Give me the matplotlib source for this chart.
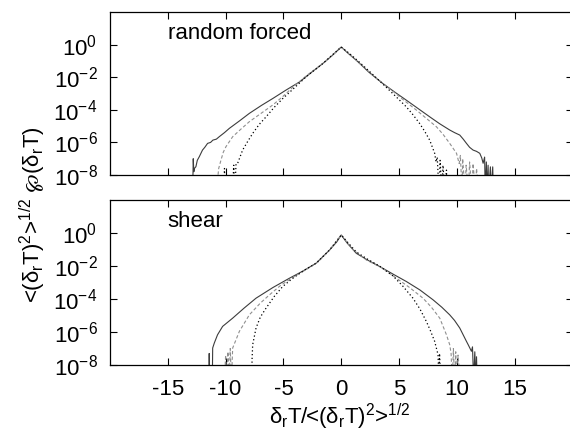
import numpy as np
import matplotlib
matplotlib.use("Agg")
import matplotlib.pyplot as plt
from matplotlib.ticker import FixedLocator, FuncFormatter

plt.rcParams['font.family'] = ['Liberation Sans', 'DejaVu Sans']
plt.rcParams['mathtext.fontset'] = 'custom'
plt.rcParams['mathtext.rm'] = 'Liberation Sans'
plt.rcParams['mathtext.it'] = 'Liberation Sans'
plt.rcParams['mathtext.bf'] = 'Liberation Sans:bold'
plt.rcParams['mathtext.fallback'] = 'stixsans'
plt.rcParams['axes.unicode_minus'] = False

# values: x and log10 of the pdf (-9 = below the axis, empty bin)
# --- random forced ---
rf_solid_x = [-12.85, -12.8, -12.75, -12.7, -12.57, -12.45, -12.28, -12.0, -11.8, -11.56, -11.3,
              -11.1, -10.8, -10.55, -10.1, -9.68, -8.8, -7.95, -6.9, -5.93, -4.8, -3.61, -2.5,
              -1.59, -0.8, 0.0, 0.7, 1.3, 2.4, 3.6, 4.6, 5.63, 6.6, 7.65, 8.5, 9.38, 9.8, 10.25,
              10.55, 10.83, 11.1, 11.4, 11.7, 11.98, 12.15, 12.27, 12.4, 12.45, 12.55, 12.6,
              12.7, 12.75, 12.9, 12.95, 13.1, 13.15]
rf_solid_y = [-9, -7.0, -7.8, -7.6, -7.49, -7.1, -6.88, -6.47, -6.3, -6.06, -6.0,
              -5.86, -5.8, -5.65, -5.4, -5.14, -4.68, -4.22, -3.73, -3.31, -2.8, -2.29, -1.66,
              -1.16, -0.68, -0.15, -0.6, -0.96, -1.7, -2.39, -2.9, -3.41, -3.9, -4.43, -4.85, -5.24, -5.4, -5.55,
              -5.8, -6.06, -6.3, -6.47, -6.55, -6.67, -6.95, -7.28, -6.9, -9, -7.2, -9,
              -7.4, -9, -7.5, -9, -7.5, -9]
rf_dash_x = [-10.8, -10.6, -10.4, -10.2, -9.97, -9.39, -8.7, -7.95, -6.9, -5.93, -5.0, -4.19,
             -3.0, -1.59, -0.8, 0.0, 0.8, 1.6, 3.0, 4.19, 5.3, 6.5, 7.4, 8.23, 8.8, 9.38, 9.97,
             10.2, 10.3, 10.45, 10.5, 10.7, 10.8, 11.0, 11.1, 11.3, 11.4, 11.6, 11.7, 11.9]
rf_dash_y = [-9, -7.6, -7.08, -6.6, -6.26, -5.65, -5.2, -4.73, -4.2, -3.71, -3.15, -2.62,
             -1.9, -1.16, -0.68, -0.15, -0.65, -1.15, -2.05, -2.7, -3.35, -4.02, -4.55, -5.04, -5.5, -6.06, -6.67,
             -7.3, -6.8, -9, -7.0, -9, -7.4, -9, -7.2, -9, -7.3, -9, -7.6, -9]
rf_dot_x = [-10.15, -10.1, -10.05, -9.4, -9.3, -9.2, -9.1, -8.96, -8.53, -8.1, -7.66, -7.1,
            -6.5, -5.8, -5.06, -4.2, -3.0, -1.59, -0.8, 0.0, 0.8, 1.6, 2.6, 3.6, 4.6, 5.63,
            6.2, 6.78, 7.2, 7.65, 8.08, 8.2, 8.3, 8.45, 8.55, 8.7, 8.8, 8.95, 9.1, 9.15]
rf_dot_y = [-9, -7.6, -9, -9, -7.4, -9, -7.3, -7.28, -6.47, -5.95, -5.45, -4.9,
            -4.43, -3.85, -3.31, -2.75, -1.95, -1.16, -0.65, -0.15, -0.6, -1.1, -1.75, -2.42, -3.1, -3.82,
            -4.3, -4.84, -5.3, -5.86, -6.67, -7.2, -6.9, -9, -7.1, -9, -7.4, -9, -7.7, -9]

# --- shear ---
sh_solid_x = [-11.45, -11.42, -11.38, -11.15, -11.12, -10.98, -10.7, -10.26, -9.39, -8.4, -7.37,
              -5.9, -4.48, -3.3, -2.17, -1.01, -0.4, 0.0, 0.5, 1.3, 2.3, 3.32, 4.5, 5.63, 6.8,
              7.94, 8.7, 9.38, 9.8, 10.25, 10.83, 11.0, 11.26, 11.35, 11.45, 11.55, 11.65,
              11.7, 11.75]
sh_solid_y = [-9, -7.3, -9, -9, -6.97, -6.67, -6.17, -5.66, -5.16, -4.55, -3.95,
              -3.3, -2.74, -2.3, -1.83, -1.03, -0.55, -0.12, -0.6, -1.23, -1.65, -2.03, -2.5, -2.94, -3.45,
              -4.05, -4.5, -4.96, -5.3, -5.76, -6.57, -6.8, -7.17, -6.9, -9, -7.2, -9,
              -7.5, -9]
sh_dash_x = [-10.1, -10.0, -9.9, -9.8, -9.7, -9.6, -9.5, -9.39, -8.81, -7.95, -7.0, -6.21,
             -5.2, -4.2, -3.0, -2.0, -1.01, 0.0, 1.0, 2.2, 3.5, 4.77, 5.9, 7.07, 7.8, 8.52,
             9.1, 9.38, 9.5, 9.6, 9.7, 9.8, 9.9, 10.0, 10.1, 10.3]
sh_dash_y = [-9, -7.4, -9, -7.2, -9, -7.0, -9, -6.97, -5.96, -4.96, -4.25, -3.75,
             -3.15, -2.7, -2.2, -1.75, -1.03, -0.12, -1.0, -1.65, -2.1, -2.74, -3.3, -3.95, -4.5, -5.16,
             -6.17, -6.77, -7.3, -9, -7.0, -9, -7.2, -9, -7.4, -9]
sh_dot_x = [-7.75, -7.71, -7.66, -7.37, -7.0, -6.5, -5.8, -5.06, -4.3, -3.3, -2.17, -1.01,
            0.0, 0.6, 1.3, 2.3, 3.3, 4.47, 5.3, 6.2, 6.8, 7.36, 7.7, 8.08, 8.37, 8.45, 8.5, 8.6]
sh_dot_y = [-9, -7.6, -6.77, -5.76, -5.1, -4.55, -3.85, -3.24, -2.8, -2.3, -1.83, -1.03,
            -0.12, -0.6, -1.15, -1.6, -2.0, -2.6, -3.2, -3.95, -4.6, -5.36, -5.9, -6.57, -7.37, -9, -7.3, -9]

panel_titles = ["random forced", "shear"]
x_ticks = [-15, -10, -5, 0, 5, 10, 15]
y_ticks = [1e0, 1e-2, 1e-4, 1e-6, 1e-8]

W, H = 570, 434
fig = plt.figure(figsize=(W / 100, H / 100), dpi=100)
ax1 = fig.add_axes([110 / W, 1 - 175 / H, 462.5 / W, 163 / H])
ax2 = fig.add_axes([110 / W, 1 - 365 / H, 462.5 / W, 165 / H])

panels = [
    (ax1, rf_solid_x, rf_solid_y, rf_dash_x, rf_dash_y, rf_dot_x, rf_dot_y),
    (ax2, sh_solid_x, sh_solid_y, sh_dash_x, sh_dash_y, sh_dot_x, sh_dot_y),
]

expfmt = FuncFormatter(lambda v, p: r'10$^{%d}$' % int(round(np.log10(v))))

for i, (ax, sx, sy, dx, dy, ox, oy) in enumerate(panels):
    ax.plot(sx, 10.0 ** np.array(sy), color='#3c3c3c', lw=0.8, ls='-')
    ax.plot(dx, 10.0 ** np.array(dy), color='#8f8f8f', lw=0.8, ls=(0, (3, 2)))
    ax.plot(ox, 10.0 ** np.array(oy), color='black', lw=0.9, ls=(0, (1, 2)))
    ax.set_yscale('log')
    ax.set_xlim(-20, 20)
    ax.set_ylim(1e-8, 1e2)
    ax.xaxis.set_major_locator(FixedLocator(x_ticks))
    ax.yaxis.set_major_locator(FixedLocator(y_ticks))
    ax.yaxis.set_minor_locator(FixedLocator([]))
    ax.yaxis.set_major_formatter(expfmt)
    ax.tick_params(direction='in', length=5, width=0.8, top=True, right=True,
                   labelsize=16, pad=9)
    ax.tick_params(axis='x', pad=10)
    for s in ax.spines.values():
        s.set_linewidth(0.9)
    ax.text(0.125, 0.87, panel_titles[i], transform=ax.transAxes, fontsize=16,
            va='center', ha='left')

ax1.tick_params(axis='x', labelbottom=False)

fig.text(340 / W, 1 - 417 / H, r'δ$_\mathrm{r}$T/<(δ$_\mathrm{r}$T)$^2$>$^{1/2}$',
         fontsize=16, ha='center', va='center')
fig.text(33 / W, 1 - 215 / H, r'<(δ$_\mathrm{r}$T)$^2$>$^{1/2}$ $\wp$(δ$_\mathrm{r}$T)',
         fontsize=16, ha='center', va='center', rotation=90)

fig.savefig('out.png', dpi=100)
